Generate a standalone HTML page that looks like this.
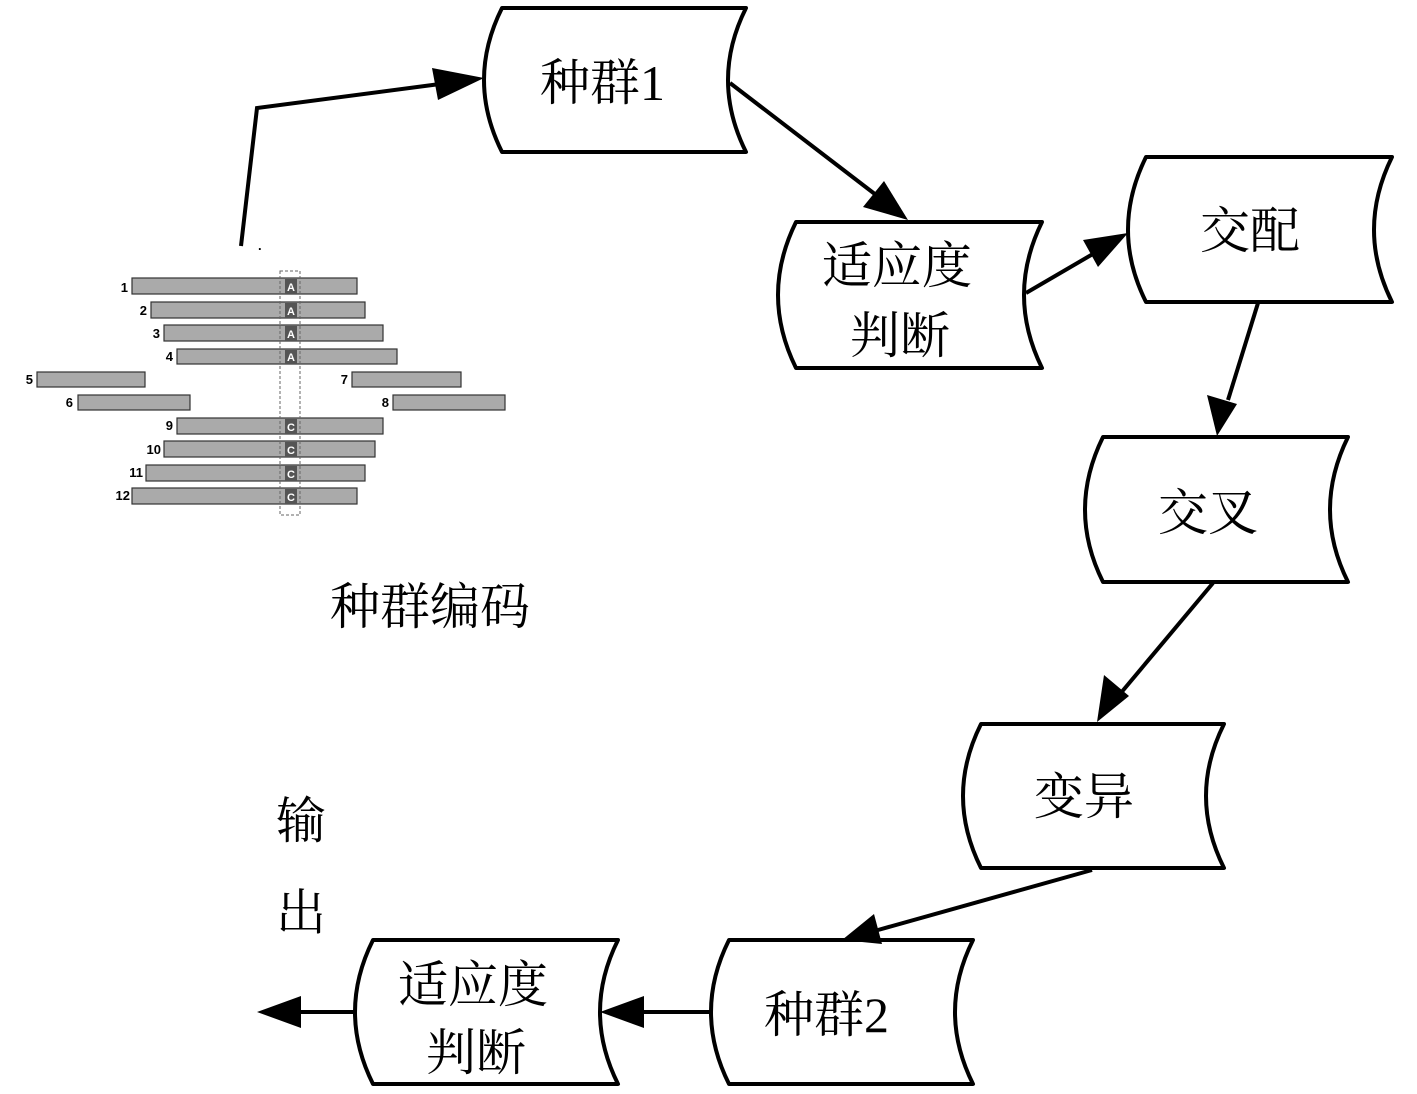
<!DOCTYPE html>
<html><head><meta charset="utf-8"><style>
html,body{margin:0;padding:0;background:#fff;}
svg{display:block}
.t{font-family:"Liberation Serif","Noto Serif CJK SC",serif;font-size:50px;fill:#000;}
.n{font-family:"Liberation Sans",sans-serif;font-size:13px;font-weight:bold;fill:#000;}
.s{font-family:"Liberation Sans",sans-serif;font-size:11px;font-weight:bold;fill:#fff;}
</style></head><body>
<svg width="1417" height="1094" viewBox="0 0 1417 1094" xmlns="http://www.w3.org/2000/svg">
<defs>
<marker id="ah" markerWidth="12" markerHeight="10" refX="11" refY="5" orient="auto" markerUnits="userSpaceOnUse" viewBox="0 0 12 10">
</marker>
</defs>
<g fill="#fff" stroke="#000" stroke-width="4" stroke-linejoin="round">
<path d="M502 8 L746 8 Q710 80 746 152 L502 152 Q466 80 502 8Z"/>
<path d="M796 222 L1042 222 Q1006 295 1042 368 L796 368 Q760 295 796 222Z"/>
<path d="M1146 157 L1392 157 Q1356 230 1392 302 L1146 302 Q1110 230 1146 157Z"/>
<path d="M1103 437 L1348 437 Q1312 510 1348 582 L1103 582 Q1067 510 1103 437Z"/>
<path d="M981 724 L1224 724 Q1188 796 1224 868 L981 868 Q945 796 981 724Z"/>
<path d="M729 940 L973 940 Q937 1012 973 1084 L729 1084 Q693 1012 729 940Z"/>
<path d="M373 940 L618 940 Q582 1012 618 1084 L373 1084 Q337 1012 373 1940Z" style="display:none"/>
<path d="M373 940 L618 940 Q582 1012 618 1084 L373 1084 Q337 1012 373 940Z"/>
</g>
<g stroke="#000" stroke-width="4" fill="none">
<polyline points="241,246 257,108 440,84"/>
<line x1="730" y1="83" x2="880" y2="198"/>
<line x1="1026" y1="293" x2="1098" y2="251"/>
<line x1="1258" y1="303" x2="1228" y2="400"/>
<line x1="1213" y1="583" x2="1120" y2="694"/>
<line x1="1092" y1="870" x2="878" y2="930"/>
<line x1="711" y1="1012" x2="640" y2="1012"/>
<line x1="355" y1="1012" x2="295" y2="1012"/>
</g>
<g fill="#000">
<polygon points="484,78 438,100 432,68"/>
<polygon points="908,220 863,207 884,181"/>
<polygon points="1128,233 1098,267 1083,240"/>
<polygon points="1217,436 1207,395 1237,404"/>
<polygon points="1097,722 1104,675 1129,696"/>
<polygon points="842,940 874,914 882,944"/>
<polygon points="600,1012 644,996 644,1028"/>
<polygon points="257,1012 301,996 301,1028"/>
</g>
<text class="t" x="540" y="100">种群1</text>
<text class="t" x="822" y="283">适应度</text>
<text class="t" x="850" y="353">判断</text>
<text class="t" x="1200" y="248">交配</text>
<text class="t" x="1158" y="530">交叉</text>
<text class="t" x="1034" y="814">变异</text>
<text class="t" x="764" y="1032">种群2</text>
<text class="t" x="398" y="1002">适应度</text>
<text class="t" x="426" y="1070">判断</text>
<text class="t" x="330" y="624">种群编码</text>
<text class="t" x="276" y="838">输</text>
<text class="t" x="276" y="930">出</text>
<text x="258" y="250" class="n" font-size="8">.</text>
<g fill="#aaa" stroke="#333" stroke-width="1.2">
<rect x="132" y="278" width="225" height="16"/>
<rect x="151" y="302" width="214" height="16"/>
<rect x="164" y="325" width="219" height="16"/>
<rect x="177" y="349" width="220" height="15"/>
<rect x="37" y="372" width="108" height="15"/>
<rect x="352" y="372" width="109" height="15"/>
<rect x="78" y="395" width="112" height="15"/>
<rect x="393" y="395" width="112" height="15"/>
<rect x="177" y="418" width="206" height="16"/>
<rect x="164" y="441" width="211" height="16"/>
<rect x="146" y="465" width="219" height="16"/>
<rect x="132" y="488" width="225" height="16"/>
</g>
<g fill="#555">
<rect x="285" y="279" width="12" height="15"/>
<rect x="285" y="303" width="12" height="15"/>
<rect x="285" y="326" width="12" height="15"/>
<rect x="285" y="350" width="12" height="14"/>
<rect x="285" y="419" width="12" height="15"/>
<rect x="285" y="442" width="12" height="15"/>
<rect x="285" y="466" width="12" height="15"/>
<rect x="285" y="489" width="12" height="15"/>
</g>
<rect x="280" y="271" width="20" height="244" fill="none" stroke="#666" stroke-width="1" stroke-dasharray="3,2"/>
<g class="s" text-anchor="middle">
<text x="291" y="291">A</text><text x="291" y="315">A</text><text x="291" y="338">A</text><text x="291" y="361">A</text>
<text x="291" y="431">C</text><text x="291" y="454">C</text><text x="291" y="478">C</text><text x="291" y="501">C</text>
</g>
<g class="n" text-anchor="end">
<text x="128" y="292">1</text><text x="147" y="315">2</text><text x="160" y="338">3</text><text x="173" y="361">4</text>
<text x="33" y="384">5</text><text x="348" y="384">7</text><text x="73" y="407">6</text><text x="389" y="407">8</text>
<text x="173" y="430">9</text><text x="161" y="454">10</text><text x="143" y="477">11</text><text x="130" y="500">12</text>
</g>
</svg>
</body></html>
